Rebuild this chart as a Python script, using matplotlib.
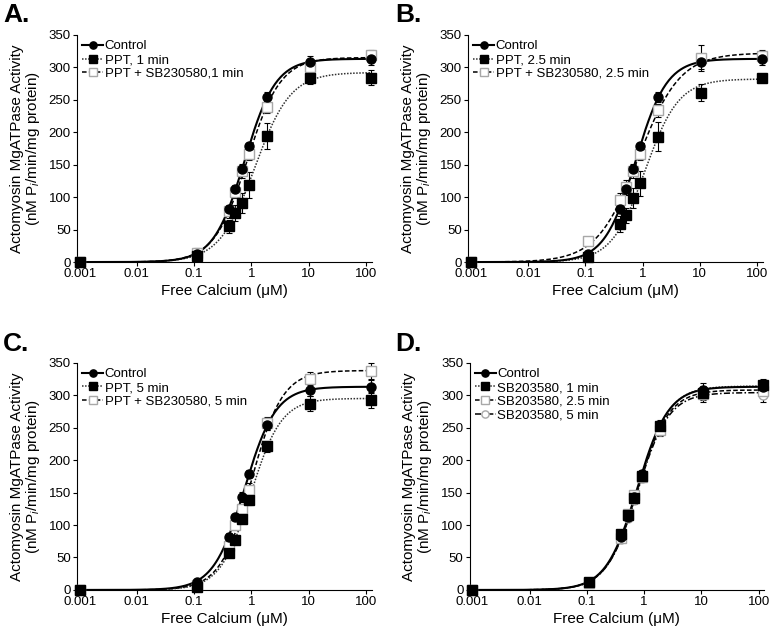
import numpy as np
import matplotlib
matplotlib.use("Agg")
import matplotlib.pyplot as plt
from matplotlib.lines import Line2D

plt.rcParams['font.family'] = ['Liberation Sans', 'DejaVu Sans']
plt.rcParams['mathtext.fontset'] = 'custom'
plt.rcParams['mathtext.rm'] = 'Liberation Sans'
plt.rcParams['mathtext.it'] = 'Liberation Sans:italic'

# free calcium (uM)
ca = [0.001, 0.11, 0.40, 0.52, 0.68, 0.91, 1.9, 10.5, 120]

control = [0, 12, 82, 112, 143, 179, 254, 308, 313]
control_err = [0, 3, 5, 5, 8, 5, 8, 10, 10]

# panel A
ppt1 = [0, 10, 55, 76, 91, 119, 194, 284, 284]
ppt1_err = [0, 5, 10, 12, 15, 20, 20, 10, 12]
pptsb1 = [0, 14, 78, 108, 140, 167, 239, 300, 319]
pptsb1_err = [0, 8, 10, 10, 10, 10, 10, 8, 8]

# panel B
ppt25 = [0, 8, 59, 72, 99, 121, 193, 261, 283]
ppt25_err = [0, 4, 12, 12, 15, 20, 22, 13, 4]
pptsb25 = [0, 32, 95, 115, 140, 167, 234, 315, 318]
pptsb25_err = [0, 4, 12, 12, 10, 10, 10, 20, 8]

# panel C
ppt5 = [0, 5, 57, 77, 110, 139, 221, 287, 293]
ppt5_err = [0, 3, 5, 5, 6, 8, 8, 12, 12]
pptsb5 = [0, 8, 68, 100, 125, 154, 257, 325, 337]
pptsb5_err = [0, 3, 6, 8, 8, 10, 10, 10, 12]

# panel D
sb1 = [0, 12, 86, 116, 141, 176, 252, 304, 315]
sb25 = [0, 11, 80, 117, 146, 174, 247, 302, 306]
sb5 = [0, 12, 79, 111, 139, 172, 245, 300, 300]
sb_err = [0, 3, 5, 5, 6, 6, 8, 10, 10]

# Hill fit parameters: (Vmax, EC50, nH)
fit_control = (313, 0.76, 1.6)
fit_ppt1 = (292, 1.15, 1.4)
fit_pptsb1 = (315, 0.85, 1.5)
fit_ppt25 = (282, 1.11, 1.48)
fit_pptsb25 = (322, 0.85, 1.2)
fit_ppt5 = (295, 0.97, 1.63)
fit_pptsb5 = (338, 1.0, 1.6)
fit_sb1 = (314, 0.78, 1.6)
fit_sb25 = (308, 0.77, 1.6)
fit_sb5 = (304, 0.77, 1.6)

xticks = [0.001, 0.01, 0.1, 1, 10, 100]
xticklabels = ['0.001', '0.01', '0.1', '1', '10', '100']


def hill(x, p):
    vmax, k, n = p
    return vmax * x**n / (k**n + x**n)


xs = np.logspace(-3, np.log10(125), 300)

filled_circle = dict(marker='o', mfc='black', mec='black', ms=6.5)
filled_square = dict(marker='s', mfc='black', mec='black', ms=6.5)
open_square = dict(marker='s', mfc='white', mec='#a8a8a8', ms=6.5, mew=1)
open_circle = dict(marker='o', mfc='white', mec='#a8a8a8', ms=6.5, mew=1)

solid = dict(color='black', ls='-', lw=1.5)
dotted = dict(color='#303030', ls=(0, (1, 1)), lw=1.1)
dashed = dict(color='black', ls=(0, (3, 1.5)), lw=1.1)
dashdot = dict(color='black', ls=(0, (4, 1.5, 1, 1.5)), lw=1.1)


def draw(ax, series, labels, letter, lx, ly):
    handles = []
    # draw in reverse so control sits on top
    for (y, err, fit, mk, ln), lab in reversed(list(zip(series, labels))):
        ax.plot(xs, hill(xs, fit), zorder=2, **ln)
        ax.errorbar(ca, y, yerr=err, fmt='none', ecolor='black', elinewidth=0.8,
                    capsize=2, capthick=0.8, zorder=3, clip_on=False)
        ax.plot(ca, y, ls='none', zorder=4, clip_on=False, **mk)
    for (y, err, fit, mk, ln), lab in zip(series, labels):
        handles.append(Line2D([], [], label=lab, **mk, **ln))
    ax.set_xscale('log')
    ax.set_xlim(0.0009, 125)
    ax.set_ylim(0, 350)
    ax.set_yticks(range(0, 351, 50))
    ax.set_xticks(xticks)
    ax.set_xticklabels(xticklabels)
    ax.minorticks_off()
    ax.tick_params(labelsize=9.5, length=3, direction='out', pad=1.5)
    ax.spines['top'].set_visible(False)
    ax.spines['right'].set_visible(False)
    ax.set_xlabel('Free Calcium (\u03bcM)', fontsize=11, labelpad=3)
    ax.set_ylabel('Actomyosin MgATPase Activity\n(nM P$_i$/min/mg protein)',
                  fontsize=11, labelpad=5, linespacing=1.0)
    ax.legend(handles=handles, loc='upper left', bbox_to_anchor=(0.0, 1.0),
              frameon=False, fontsize=9.5, handlelength=1.6, handletextpad=0.1,
              labelspacing=0.12, borderaxespad=0.2, borderpad=0.2,
              markerscale=0.8)
    fig.text(lx, ly, letter, fontsize=19, fontweight='bold', va='top', ha='left')


fig = plt.figure(figsize=(7.75, 6.33), dpi=100)
axA = fig.add_axes([0.0994, 0.586, 0.380, 0.359])
axB = fig.add_axes([0.604, 0.586, 0.380, 0.359])
axC = fig.add_axes([0.0994, 0.068, 0.380, 0.359])
axD = fig.add_axes([0.606, 0.068, 0.380, 0.359])

draw(axA, [(control, control_err, fit_control, filled_circle, solid),
           (ppt1, ppt1_err, fit_ppt1, filled_square, dotted),
           (pptsb1, pptsb1_err, fit_pptsb1, open_square, dashed)],
     ['Control', 'PPT, 1 min', 'PPT + SB230580,1 min'], 'A.', 0.004, 0.995)

draw(axB, [(control, control_err, fit_control, filled_circle, solid),
           (ppt25, ppt25_err, fit_ppt25, filled_square, dotted),
           (pptsb25, pptsb25_err, fit_pptsb25, open_square, dashed)],
     ['Control', 'PPT, 2.5 min', 'PPT + SB230580, 2.5 min'], 'B.', 0.51, 0.995)

draw(axC, [(control, control_err, fit_control, filled_circle, solid),
           (ppt5, ppt5_err, fit_ppt5, filled_square, dotted),
           (pptsb5, pptsb5_err, fit_pptsb5, open_square, dashed)],
     ['Control', 'PPT, 5 min', 'PPT + SB230580, 5 min'], 'C.', 0.004, 0.475)

draw(axD, [(control, control_err, fit_control, filled_circle, solid),
           (sb1, sb_err, fit_sb1, filled_square, dotted),
           (sb25, sb_err, fit_sb25, open_square, dashed),
           (sb5, sb_err, fit_sb5, open_circle, dashdot)],
     ['Control', 'SB203580, 1 min', 'SB203580, 2.5 min', 'SB203580, 5 min'],
     'D.', 0.51, 0.475)

fig.savefig('out.png', dpi=100)
